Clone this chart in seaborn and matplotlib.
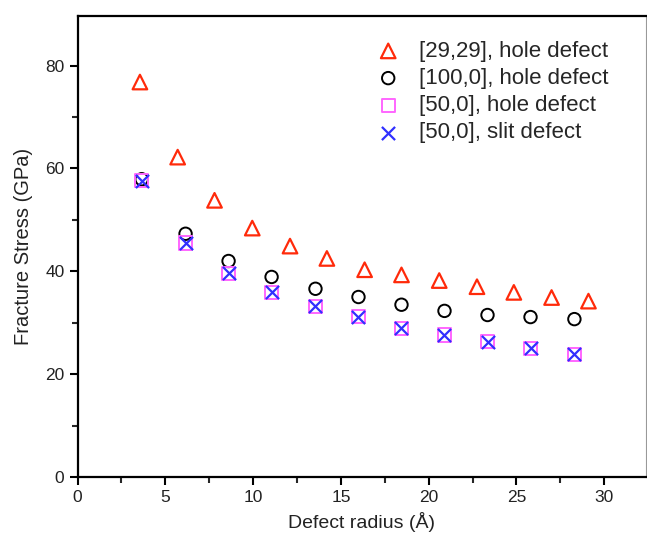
import numpy as np
import pandas as pd
import seaborn as sns
import matplotlib.pyplot as plt
from matplotlib.ticker import MultipleLocator

# values
tri_r = [3.55, 5.7, 7.8, 9.95, 12.1, 14.2, 16.35, 18.45, 20.6, 22.75, 24.85, 27.0, 29.1]
tri_s = [76.8, 62.2, 53.8, 48.4, 44.9, 42.5, 40.3, 39.3, 38.2, 37.0, 35.9, 34.9, 34.2]

circ_r = [3.65, 6.15, 8.6, 11.05, 13.55, 16.0, 18.45, 20.9, 23.35, 25.8, 28.3]
circ_s = [57.9, 47.3, 42.0, 38.9, 36.6, 35.0, 33.5, 32.3, 31.5, 31.1, 30.7]

sq_r = [3.65, 6.15, 8.6, 11.05, 13.55, 16.0, 18.45, 20.9, 23.35, 25.8, 28.3]
sq_s = [57.6, 45.5, 39.6, 35.9, 33.2, 31.2, 28.9, 27.6, 26.3, 25.0, 23.9]

slit_r = [3.65, 6.15, 8.6, 11.05, 13.55, 16.0, 18.45, 20.9, 23.35, 25.8, 28.3]
slit_s = [57.6, 45.5, 39.6, 35.9, 33.2, 31.2, 28.9, 27.6, 26.3, 25.0, 23.9]

labels = ["[29,29], hole defect", "[100,0], hole defect",
          "[50,0], hole defect", "[50,0], slit defect"]

data = pd.concat([
    pd.DataFrame({"radius": tri_r, "stress": tri_s, "series": labels[0]}),
    pd.DataFrame({"radius": circ_r, "stress": circ_s, "series": labels[1]}),
    pd.DataFrame({"radius": sq_r, "stress": sq_s, "series": labels[2]}),
    pd.DataFrame({"radius": slit_r, "stress": slit_s, "series": labels[3]}),
], ignore_index=True)

sns.set_style("ticks")
plt.rcParams["font.family"] = ["Liberation Sans", "DejaVu Sans"]

fig = plt.figure(figsize=(6.47, 5.33), dpi=100)
ax = fig.add_axes([77.6 / 647, 1 - 477 / 533, (645.5 - 77.6) / 647, (477 - 15.7) / 533])

styles = {
    labels[0]: dict(marker="^", facecolors="none", edgecolors="#ff2a0a", s=110, linewidths=1.6),
    labels[1]: dict(marker="o", facecolors="none", edgecolors="black", s=80, linewidths=1.4),
    labels[2]: dict(marker="s", facecolors="none", edgecolors="#ff66ff", s=90, linewidths=1.4),
    labels[3]: dict(marker="x", color="#3030ff", s=90, linewidths=1.6),
}
for name in labels:
    sub = data[data["series"] == name]
    sns.scatterplot(data=sub, x="radius", y="stress", ax=ax, label=name, **styles[name])

ax.set_xlim(0, 32.35)
ax.set_ylim(0, 89.7)
ax.xaxis.set_major_locator(MultipleLocator(5))
ax.xaxis.set_minor_locator(MultipleLocator(2.5))
ax.yaxis.set_major_locator(MultipleLocator(20))
ax.yaxis.set_minor_locator(MultipleLocator(10))
ax.tick_params(which="major", direction="out", length=6, width=1.5, labelsize=12.5, colors="black")
ax.tick_params(which="minor", direction="out", length=4, width=1.5)
ax.tick_params(axis="both", labelcolor="#222222")

for side in ["left", "bottom", "top"]:
    ax.spines[side].set_linewidth(1.6)
    ax.spines[side].set_color("black")
ax.spines["right"].set_linewidth(0.8)
ax.spines["right"].set_color("#999999")

ax.set_xlabel("Defect radius (Å)", fontsize=14, labelpad=5, color="#222222")
ax.set_ylabel("Fracture Stress (GPa)", fontsize=14.5, labelpad=9, color="#222222")

leg = ax.legend(loc="upper left", frameon=False, fontsize=16, handletextpad=0.6,
                handlelength=1.6, labelspacing=0.28, borderaxespad=0.0,
                bbox_to_anchor=(0.5, 0.965))

plt.savefig("out.png", dpi=100)
